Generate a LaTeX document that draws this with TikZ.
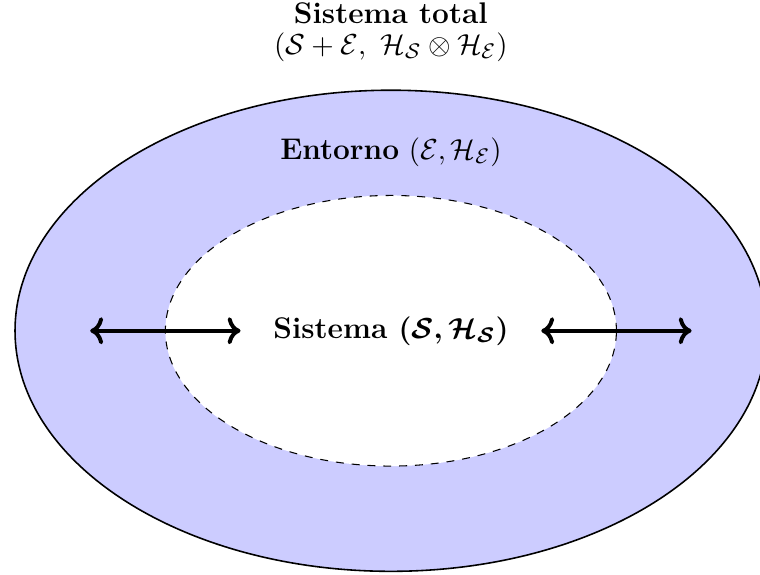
\documentclass[tikz,border=0pt]{standalone}
\usepackage{amsmath,amssymb}
\usepackage{xcolor}
\usepackage{tikz}
\usetikzlibrary{arrows.meta,positioning}

\begin{document}
\begin{tikzpicture}[font=\fontsize{11.3}{13.8}\selectfont,
    interaccion/.style={<->, line width=1.5pt}]
                \useasboundingbox (-5.2,-3.245) rectangle (4.91,4.40);

                % Entorno
                \draw[semithick, fill=blue!20] (0,0) ellipse (5 and 3.2);
                \node (ent) at (0,2.38) {\textbf{Entorno} $(\mathcal{E},\mathcal{H}_{\mathcal{E}})$};

                % Sistema
                \draw[dashed, fill=white] (0,0) ellipse (3 and 1.8);
                \node[font=\fontsize{11.3}{13.8}\selectfont\bfseries\boldmath] (sis) at (0,0) {Sistema $(\mathcal{S},\mathcal{H}_{\mathcal{S}})$};

                % Sistema total
                \node[align=center] (tot) at (0,3.97) {\textbf{Sistema total}\\[-2.3pt] $(\mathcal{S}+\mathcal{E},\ \mathcal{H}_{\mathcal{S}}\otimes\mathcal{H}_{\mathcal{E}})$};

                % Interacciones
                \coordinate (izqA) at (-4,0);
                \coordinate (izqB) at (-2,0);
                \coordinate (derA) at (2,0);
                \coordinate (derB) at (4,0);
                \draw[interaccion] (izqA) -- (izqB);
                \draw[interaccion] (derA) -- (derB);
\end{tikzpicture}
\end{document}
